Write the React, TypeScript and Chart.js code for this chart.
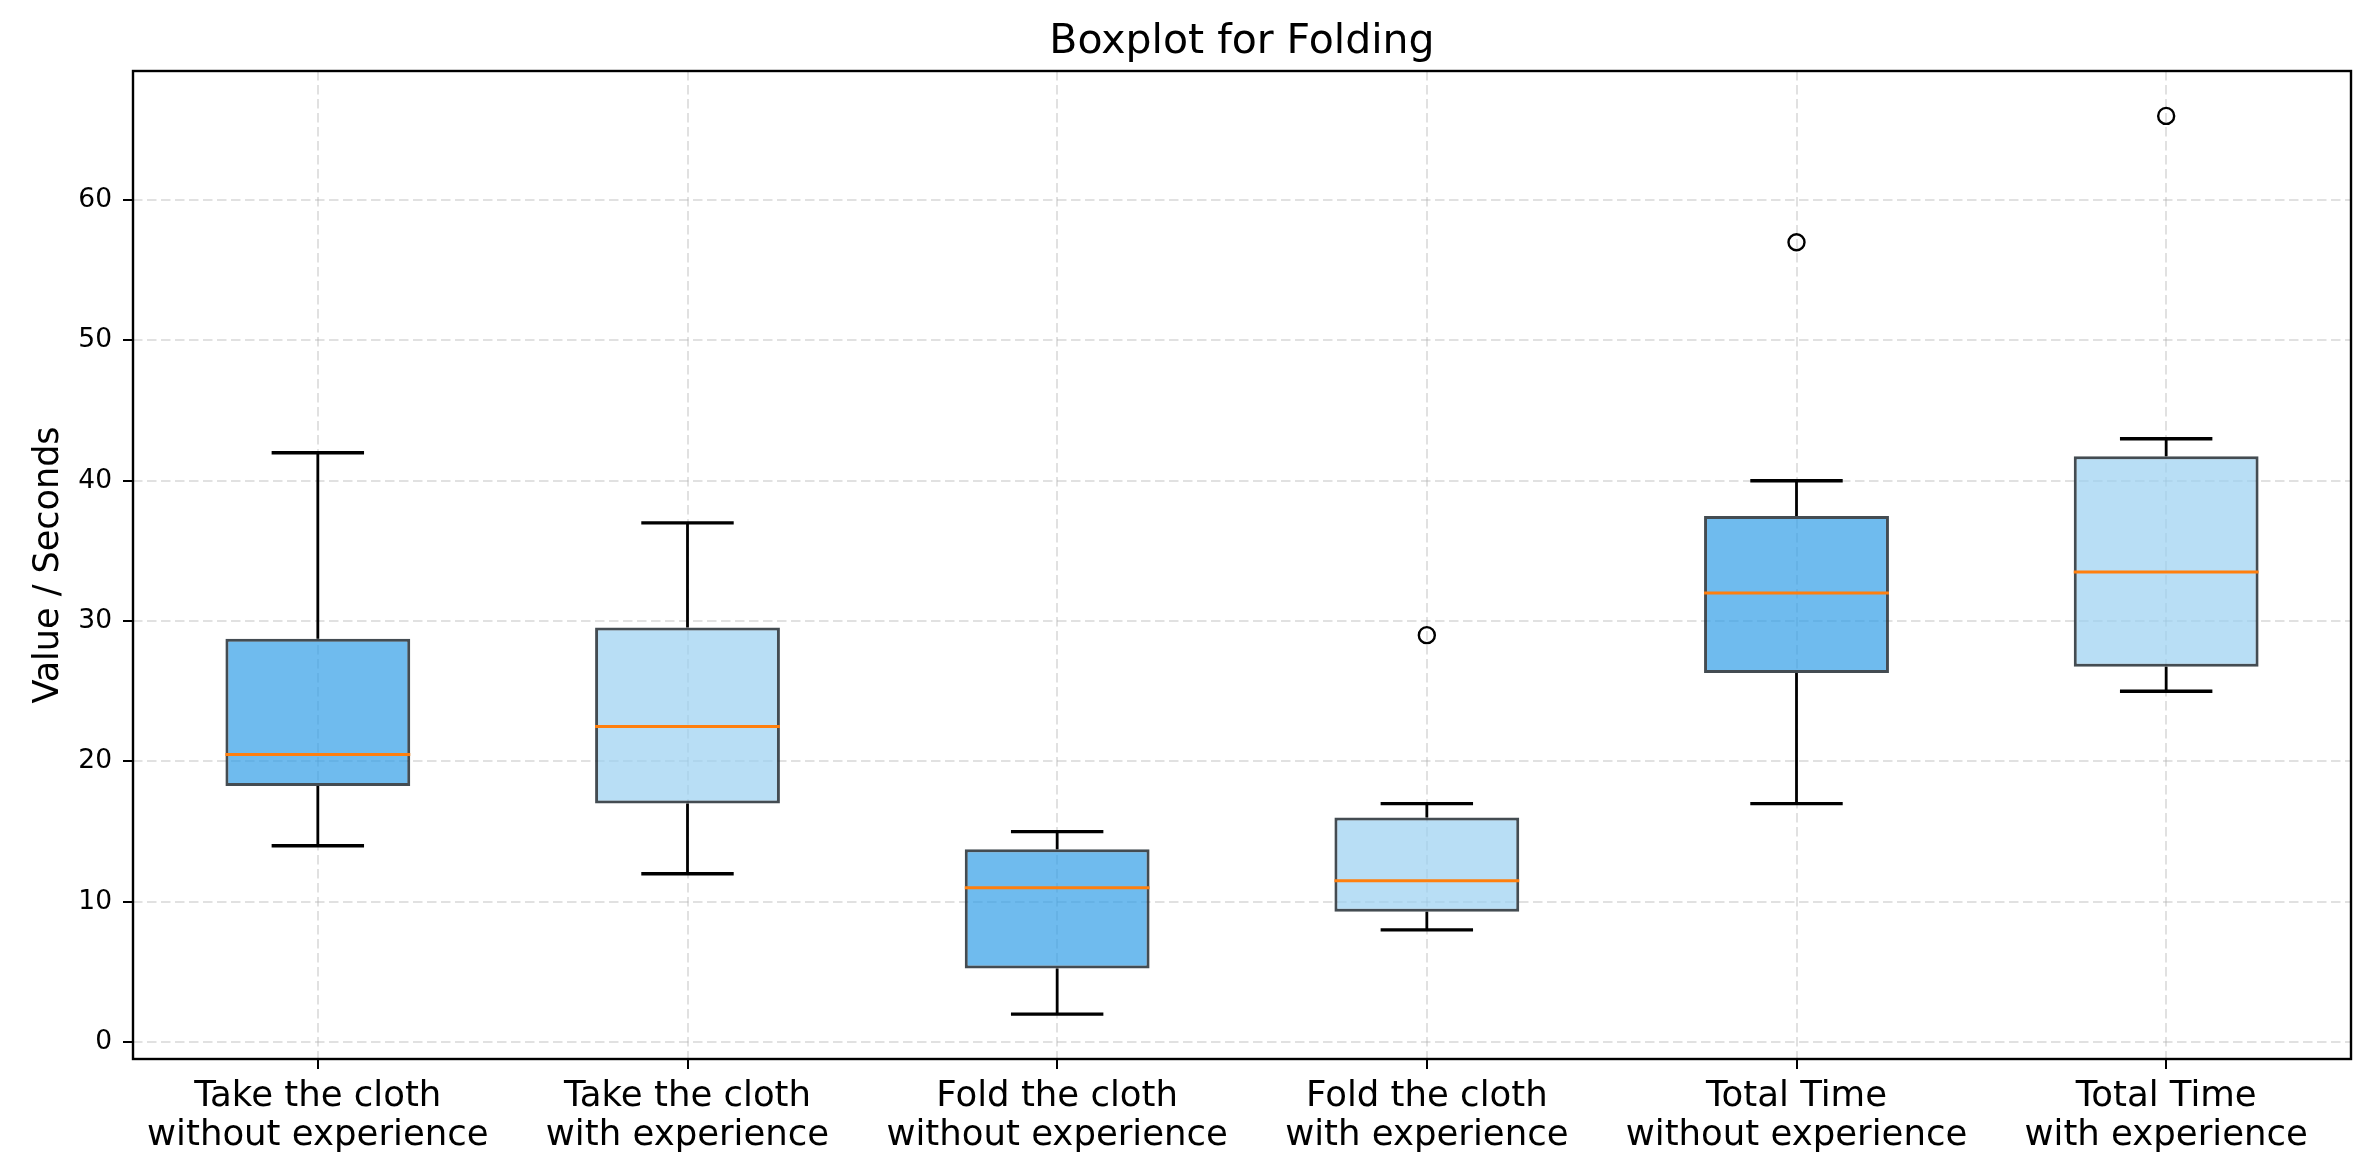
import React, { useEffect, useRef } from "react";
import { Chart, registerables } from "chart.js";

Chart.register(...registerables);

const categories: string[][] = [
  ["Take the cloth", "without experience"],
  ["Take the cloth", "with experience"],
  ["Fold the cloth", "without experience"],
  ["Fold the cloth", "with experience"],
  ["Total Time", "without experience"],
  ["Total Time", "with experience"],
];
const whiskerLow = [14, 12, 2, 8, 17, 25];
const q1 = [18.25, 17, 5.25, 9.3, 26.3, 26.75];
const median = [20.5, 22.5, 11, 11.5, 32, 33.5];
const q3 = [28.75, 29.55, 13.75, 16, 37.5, 41.75];
const whiskerHigh = [42, 37, 15, 17, 40, 43];
const outliers: (number | null)[] = [null, null, null, 29, 57, 66];
const yTicks = [0, 10, 20, 30, 40, 50, 60];
const yMin = -1.2;
const yMax = 69.2;

const FONT = "'DejaVu Sans', sans-serif";
const DARK = "rgba(50,158,231,0.7)";
const LIGHT = "rgba(154,208,241,0.7)";

const boxParts = {
  id: "boxParts",
  afterDatasetsDraw(chart: any) {
    const meta = chart.getDatasetMeta(0);
    const ys = chart.scales.y;
    const ctx = chart.ctx as CanvasRenderingContext2D;
    ctx.save();
    meta.data.forEach((bar: any, i: number) => {
      const { x, width } = bar.getProps(["x", "width"], true);
      const yLo = ys.getPixelForValue(whiskerLow[i]);
      const yQ1 = ys.getPixelForValue(q1[i]);
      const yMed = ys.getPixelForValue(median[i]);
      const yQ3 = ys.getPixelForValue(q3[i]);
      const yHi = ys.getPixelForValue(whiskerHigh[i]);
      ctx.strokeStyle = "#000";
      ctx.lineCap = "butt";
      ctx.lineWidth = 2.8;
      ctx.beginPath();
      ctx.moveTo(x, yQ3);
      ctx.lineTo(x, yHi);
      ctx.moveTo(x, yQ1);
      ctx.lineTo(x, yLo);
      ctx.stroke();
      ctx.lineWidth = 3.4;
      ctx.beginPath();
      ctx.moveTo(x - width / 4, yHi);
      ctx.lineTo(x + width / 4, yHi);
      ctx.moveTo(x - width / 4, yLo);
      ctx.lineTo(x + width / 4, yLo);
      ctx.stroke();
      ctx.strokeStyle = "#ff7f0e";
      ctx.lineWidth = 3;
      ctx.beginPath();
      ctx.moveTo(x - width / 2, yMed);
      ctx.lineTo(x + width / 2, yMed);
      ctx.stroke();
    });
    ctx.restore();
  },
  afterDraw(chart: any) {
    const { left, top, right, bottom } = chart.chartArea;
    const ctx = chart.ctx as CanvasRenderingContext2D;
    ctx.save();
    ctx.strokeStyle = "#000";
    ctx.lineWidth = 2.4;
    ctx.strokeRect(left, top, right - left, bottom - top);
    ctx.restore();
  },
};

export default function App() {
  const ref = useRef<HTMLCanvasElement | null>(null);

  useEffect(() => {
    if (!ref.current) return;
    const colors = categories.map((_, i) => (i % 2 === 0 ? DARK : LIGHT));
    const chart = new Chart(ref.current, {
      type: "bar",
      data: {
        labels: categories as any,
        datasets: [
          {
            type: "bar",
            data: q1.map((v, i) => [v, q3[i]]) as any,
            backgroundColor: colors,
            borderColor: "rgba(35,45,52,0.85)",
            borderWidth: 3,
            borderSkipped: false,
            barPercentage: 0.5,
            categoryPercentage: 1,
          } as any,
          {
            type: "line",
            data: outliers as any,
            showLine: false,
            pointStyle: "circle",
            pointRadius: 8,
            pointBorderWidth: 2.4,
            pointBorderColor: "#000",
            pointBackgroundColor: "rgba(0,0,0,0)",
          } as any,
        ],
      },
      options: {
        animation: false,
        responsive: false,
        devicePixelRatio: 1,
        events: [],
        layout: { padding: { left: 0, right: 24, top: 0, bottom: 0 } },
        plugins: {
          legend: { display: false },
          tooltip: { enabled: false },
          title: {
            display: true,
            fullSize: false,
            text: "Boxplot for Folding",
            color: "#000",
            font: { family: FONT, size: 41, weight: "normal", lineHeight: 1.2 },
            padding: { top: 18, bottom: 3.8 },
          },
        },
        scales: {
          x: {
            type: "category",
            offset: true,
            grid: {
              display: true,
              offset: false,
              color: "rgba(176,176,176,0.38)",
              lineWidth: 2,
              drawTicks: true,
              tickLength: 10,
              tickColor: "#000",
              tickWidth: 2,
            },
            border: { display: false, dash: [9.5, 4.5] },
            ticks: {
              color: "#000",
              font: { family: FONT, size: 35.5, lineHeight: 1.1 },
              padding: 8,
              maxRotation: 0,
              minRotation: 0,
              autoSkip: false,
            },
            afterFit: (scale: any) => {
              scale.height = 116;
            },
          },
          y: {
            type: "linear",
            min: yMin,
            max: yMax,
            grid: {
              color: "rgba(176,176,176,0.38)",
              lineWidth: 2,
              drawTicks: true,
              tickLength: 10,
              tickColor: "#000",
              tickWidth: 2,
            },
            border: { display: false, dash: [9.5, 4.5] },
            ticks: {
              color: "#000",
              font: { family: FONT, size: 26.5 },
              padding: 11,
            },
            afterBuildTicks: (scale: any) => {
              scale.ticks = yTicks.map((v) => ({ value: v }));
            },
            title: {
              display: true,
              text: "Value / Seconds",
              color: "#000",
              font: { family: FONT, size: 35, lineHeight: 1.2 },
              padding: { top: 28, bottom: 0 },
            },
            afterFit: (scale: any) => {
              scale.width = 133;
            },
          },
        },
      } as any,
      plugins: [boxParts],
    });
    return () => chart.destroy();
  }, []);

  return (
    <div
      style={{
        position: "fixed",
        left: 0,
        top: 0,
        width: 2375,
        height: 1175,
        background: "#fff",
      }}
    >
      <canvas ref={ref} width={2375} height={1175} style={{ width: 2375, height: 1175, display: "block" }} />
    </div>
  );
}
